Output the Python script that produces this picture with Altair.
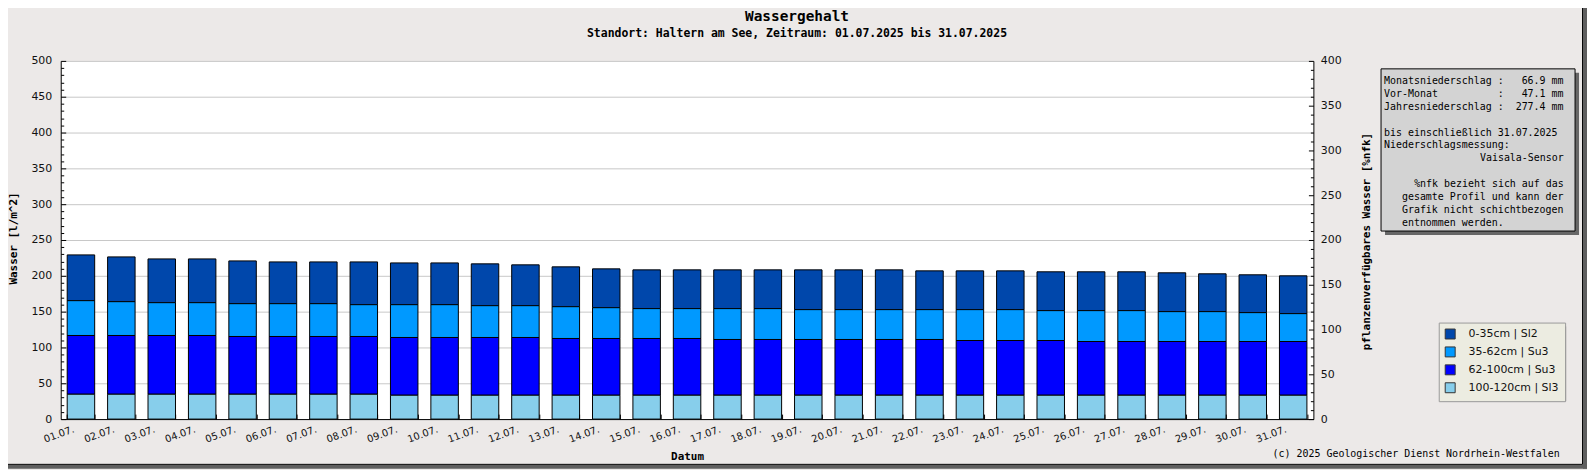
import altair as alt
import pandas as pd

days = ["01.07.", "02.07.", "03.07.", "04.07.", "05.07.", "06.07.", "07.07.", "08.07.",
        "09.07.", "10.07.", "11.07.", "12.07.", "13.07.", "14.07.", "15.07.", "16.07.",
        "17.07.", "18.07.", "19.07.", "20.07.", "21.07.", "22.07.", "23.07.", "24.07.",
        "25.07.", "26.07.", "27.07.", "28.07.", "29.07.", "30.07.", "31.07."]

layers = ["0-35cm | Sl2", "35-62cm | Su3", "62-100cm | Su3", "100-120cm | Sl3"]
colors = ["#0047AB", "#0099FF", "#0000FF", "#87CEEB"]

w_0_35 = [63.9, 62.5, 61.1, 61.1, 59.7, 58.3, 58.3, 59.7, 58.3, 58.3, 58.4, 57.0, 55.6, 54.2, 54.1, 54.1,
          54.1, 54.1, 55.5, 55.5, 55.5, 54.1, 54.1, 54.1, 54.2, 54.2, 54.2, 54.2, 52.8, 52.8, 52.8]
w_35_62 = [48.6, 47.2, 45.8, 45.8, 45.8, 45.8, 45.8, 44.4, 45.8, 45.8, 44.4, 44.4, 44.4, 43.0, 41.7, 41.7,
           43.1, 43.1, 41.7, 41.7, 41.7, 41.7, 43.1, 43.1, 41.7, 43.1, 43.1, 41.7, 41.7, 40.3, 38.9]
w_62_100 = [82.0, 82.0, 82.0, 82.0, 80.6, 80.6, 80.6, 80.6, 80.6, 80.6, 80.6, 80.6, 79.2, 79.2, 79.2, 79.2,
            77.8, 77.8, 77.8, 77.8, 77.8, 77.8, 76.4, 76.4, 76.4, 75.0, 75.0, 75.0, 75.0, 75.0, 75.0]
w_100_120 = [34.7, 34.7, 34.7, 34.7, 34.7, 34.7, 34.7, 34.7, 33.3, 33.3, 33.3, 33.3, 33.3, 33.3, 33.3, 33.3,
             33.3, 33.3, 33.3, 33.3, 33.3, 33.3, 33.3, 33.3, 33.3, 33.3, 33.3, 33.3, 33.3, 33.3, 33.3]

left_ticks = list(range(0, 501, 50))
left_minor = list(range(0, 501, 10))
right_ticks = list(range(0, 401, 50))
right_minor = list(range(0, 401, 10))

title_text = "Wassergehalt"
subtitle_text = "Standort: Haltern am See, Zeitraum: 01.07.2025 bis 31.07.2025"
copyright_text = "(c) 2025 Geologischer Dienst Nordrhein-Westfalen"
info_block1 = [
    "Monatsniederschlag :   66.9 mm",
    "Vor-Monat          :   47.1 mm",
    "Jahresniederschlag :  277.4 mm",
]
info_block2 = ["bis einschließlich 31.07.2025", "Niederschlagsmessung:"]
info_sensor = "Vaisala-Sensor"
info_note_first = "%nfk bezieht sich auf das"
info_note_rest = ["gesamte Profil und kann der", "Grafik nicht schichtbezogen", "entnommen werden."]


def keep_spaces(s):
    return s.replace(" ", "\u00a0")


series = [w_0_35, w_35_62, w_62_100, w_100_120]
rows = []
for li, (name, vals) in enumerate(zip(layers, series)):
    for d, v in zip(days, vals):
        rows.append({"day": d, "layer": name, "value": v, "stackorder": 3 - li})
df = pd.DataFrame(rows)

W, H = 1259, 360
MONO = "DejaVu Sans Mono"
SANS = "DejaVu Sans"

xscale = alt.Scale(paddingInner=0.32, paddingOuter=0.16)

bars = alt.Chart(df).mark_bar(stroke="black", strokeWidth=1).encode(
    x=alt.X("day:N", sort=days, scale=xscale,
            axis=alt.Axis(orient="bottom", ticks=False, tickSize=0, domain=True, domainColor="black",
                          labelAngle=340, labelAlign="center", labelBaseline="middle",
                          labelPadding=15, labelOffset=-22, labelFont=SANS, labelFontSize=10,
                          labelColor="#111", labelOverlap=False, grid=False,
                          title="Datum", titleFont=MONO, titleFontSize=11, titleFontWeight="bold",
                          titleColor="black", titleX=W / 2, titleY=38, titleBaseline="middle",
                          titleAlign="center")),
    y=alt.Y("value:Q", stack="zero", scale=alt.Scale(domain=[0, 500], nice=False),
            axis=alt.Axis(orient="left", values=left_ticks, ticks=False, tickSize=0, labelPadding=9,
                          labelFont=SANS, labelFontSize=11, labelColor="#111", domainColor="black",
                          grid=True, gridColor="#C8C8C8", gridWidth=1,
                          title="Wasser [l/m^2]", titleFont=MONO, titleFontSize=11,
                          titleFontWeight="bold", titleColor="black", titleAngle=270,
                          titleX=-47, titleY=178, titleAlign="center", titleBaseline="middle")),
    color=alt.Color("layer:N", scale=alt.Scale(domain=layers, range=colors),
                    legend=alt.Legend(title=None, orient="none", legendX=1385, legendY=263,
                                      symbolType="square", symbolSize=100, symbolStrokeColor="#333",
                                      symbolStrokeWidth=1, labelFont=SANS, labelFontSize=11,
                                      labelColor="#111", fillColor="#ECECE1", strokeColor="#9A9A9A",
                                      padding=6, rowPadding=3, labelOffset=13)),
    order=alt.Order("stackorder:Q"),
)

lticks = alt.Chart(df).mark_point(opacity=0).encode(
    x=alt.X("day:N", sort=days, scale=xscale,
            axis=alt.Axis(orient="top", offset=-H, labels=False, domain=False, grid=False,
                          ticks=True, tickSize=5, tickColor="black", tickBand="extent",
                          title=None, zindex=1)),
    y=alt.Y("value:Q", scale=alt.Scale(domain=[0, 500], nice=False),
            axis=alt.Axis(orient="right", offset=-W, values=left_minor, labels=False, domain=False,
                          grid=False, ticks=True, tickColor="black",
                          tickSize={"condition": {"test": "datum.value % 50 === 0", "value": 5}, "value": 3},
                          title=None, zindex=1)),
)

rlabels = alt.Chart(df).mark_point(opacity=0).encode(
    y=alt.Y("value:Q", scale=alt.Scale(domain=[0, 400], nice=False),
            axis=alt.Axis(orient="right", values=right_ticks, ticks=False, tickSize=0, labelPadding=7,
                          labelFont=SANS, labelFontSize=11, labelColor="#111", domainColor="black",
                          grid=False, title="pflanzenverfügbares Wasser [%nfk]", titleFont=MONO,
                          titleFontSize=11, titleFontWeight="bold", titleColor="black",
                          titleAngle=270, titleX=53, titleY=181, titleAlign="center",
                          titleBaseline="middle")),
)

rticks = alt.Chart(df).mark_point(opacity=0).encode(
    y=alt.Y("value:Q", scale=alt.Scale(domain=[0, 400], nice=False),
            axis=alt.Axis(orient="left", offset=-W, values=right_minor, labels=False, domain=False,
                          grid=False, ticks=True, tickColor="black",
                          tickSize={"condition": {"test": "datum.value % 50 === 0", "value": 5}, "value": 3},
                          title=None, zindex=1)),
)

one = pd.DataFrame({"k": [0]})


def rect(x, x2, y, y2, **kw):
    return alt.Chart(one).mark_rect(**kw).encode(
        x=alt.value(x), x2=alt.value(x2), y=alt.value(y), y2=alt.value(y2))


def text(t, x, y, **kw):
    return alt.Chart(one).mark_text(text=t, **kw).encode(x=alt.value(x), y=alt.value(y))


# frame shadows and lines (right / bottom)
shadow_r = rect(1530, 1534, -56, 410, fill="#5F5F5F")
shadow_b = rect(-56, 1534, 406, 410, fill="#5F5F5F")
frame_r = alt.Chart(one).mark_rule(color="black", strokeWidth=1).encode(
    x=alt.value(1529.5), y=alt.value(-60), y2=alt.value(405.5))
frame_b = alt.Chart(one).mark_rule(color="black", strokeWidth=1).encode(
    x=alt.value(-61), x2=alt.value(1529.5), y=alt.value(405.5))

IX = 1330
LH = 13
IY = 15
mono10 = dict(font=MONO, fontSize=10, baseline="top", lineHeight=LH, color="black")
info_shadow = rect(1331, 1526, 12, 175, fill="#666666")
info_box = rect(1327, 1522, 8, 171, fill="#D3D3D3", stroke="black", strokeWidth=1)
info_t1 = text([keep_spaces(s) for s in info_block1], IX, IY, align="left", **mono10)
info_t2 = text([keep_spaces(s) for s in info_block2], IX, IY + 4 * LH, align="left", **mono10)
info_t3 = text(keep_spaces(info_sensor), IX + 180.6, IY + 6 * LH, align="right", **mono10)
info_t4 = text(keep_spaces(info_note_first), IX + 180.6, IY + 8 * LH, align="right", **mono10)
info_t5 = text([keep_spaces(s) for s in info_note_rest], IX + 18, IY + 9 * LH, align="left", **mono10)
legend_shadow = rect(1389, 1513, 267, 342, fill="#666666")

t1 = text(title_text, 740, -44, font=MONO, fontSize=14.5, fontWeight="bold", align="center",
          baseline="middle", color="black")
t2 = text(subtitle_text, 740, -27, font=MONO, fontSize=11.5, fontWeight="bold", align="center",
          baseline="middle", color="black")
cp = text(copyright_text, 1218, 395, font=MONO, fontSize=10, align="left", baseline="middle",
          color="black")

chart = alt.layer(
    shadow_r, shadow_b, frame_r, frame_b,
    bars, lticks, rlabels, rticks,
    info_shadow, info_box, info_t1, info_t2, info_t3, info_t4, info_t5,
    legend_shadow, t1, t2, cp,
).resolve_scale(y="independent").resolve_axis(x="independent", y="independent").properties(
    width=W, height=H,
    autosize=alt.AutoSizeParams(type="none"),
    padding={"left": 53, "top": 52, "right": 275, "bottom": 50},
).configure(background="#ECE9E8").configure_view(fill="white", stroke="transparent")

chart.save("out.html", embed_options={"renderer": "svg", "actions": False})
